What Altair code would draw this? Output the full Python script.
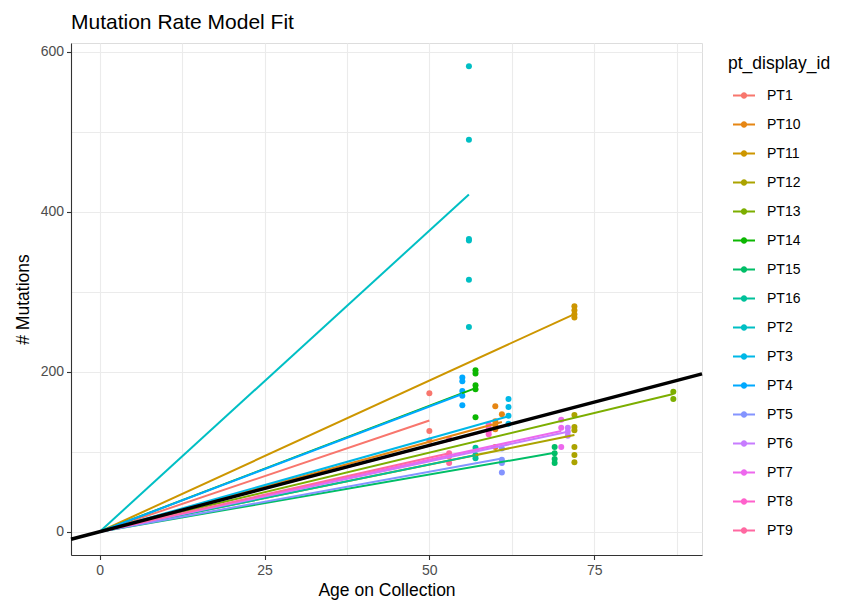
import altair as alt
import pandas as pd

FONT = "Liberation Sans"

# ---- data ----
patients = ["PT1", "PT10", "PT11", "PT12", "PT13", "PT14", "PT15", "PT16",
            "PT2", "PT3", "PT4", "PT5", "PT6", "PT7", "PT8", "PT9"]
palette = ["#F8766D", "#E68613", "#CD9600", "#ABA300", "#7CAE00", "#0CB702",
           "#00BE67", "#00C19A", "#00BFC4", "#00B8E7", "#00A9FF", "#8494FF",
           "#C77CFF", "#ED68ED", "#FF61CC", "#FF68A1"]
# per-patient fitted slope (mutations per year, line through the origin)
fit_slopes = [2.78, 2.25, 3.78, 1.68, 1.98, 3.15, 1.43, 1.68,
              7.53, 2.33, 3.13, 1.50, 1.76, 1.80, 2.15, 1.85]
overall_slope = 2.16

point_patient = (["PT1"] * 3 + ["PT10"] * 6 + ["PT11"] * 4 + ["PT12"] * 6 +
                 ["PT13"] * 2 + ["PT14"] * 5 + ["PT15"] * 4 + ["PT16"] * 3 +
                 ["PT2"] * 6 + ["PT3"] * 4 + ["PT4"] * 5 + ["PT5"] * 4 +
                 ["PT6"] * 3 + ["PT7"] * 3 + ["PT8"] * 4 + ["PT9"] * 4)
point_age = ([50] * 3 + [60, 61, 60, 60, 60, 60] + [72] * 4 + [72] * 6 +
             [87] * 2 + [57] * 5 + [69] * 4 + [57] * 3 +
             [56] * 6 + [62] * 4 + [55] * 5 + [61] * 4 +
             [71] * 3 + [70] * 3 + [59] * 4 + [53] * 4)
point_mutations = ([173, 126, 114] +
                   [157, 147, 138, 133, 128, 106] +
                   [282, 277, 272, 268] +
                   [146, 131, 127, 106, 96, 87] +
                   [175, 166] +
                   [202, 198, 183, 178, 143] +
                   [106, 98, 91, 86] +
                   [105, 96, 92] +
                   [582, 490, 366, 364, 315, 256] +
                   [166, 156, 145, 135] +
                   [193, 188, 176, 170, 158] +
                   [104, 90, 86, 74] +
                   [130, 125, 120] +
                   [140, 130, 106] +
                   [134, 130, 126, 122] +
                   [116, 98, 94, 86])

x_limits = [-4.35, 91.35]
y_limits = [-29.1, 611.1]
x_breaks = [0, 12.5, 25, 37.5, 50, 62.5, 75, 87.5]
y_breaks = [0, 100, 200, 300, 400, 500, 600]

# ---- tables ----
pts = pd.DataFrame({"pt_display_id": point_patient, "age": point_age,
                    "mutations": point_mutations})
max_age = pts.groupby("pt_display_id")["age"].max()
line_rows = []
for p, s in zip(patients, fit_slopes):
    for a in (0, max_age[p]):
        line_rows.append({"pt_display_id": p, "age": a, "mutations": s * a})
fit_lines = pd.DataFrame(line_rows)
overall = pd.DataFrame({"age": x_limits,
                        "mutations": [overall_slope * a for a in x_limits]})

# ---- scales / axes ----
xscale = alt.Scale(domain=x_limits, nice=False, zero=False)
yscale = alt.Scale(domain=y_limits, nice=False, zero=False)

common_axis = dict(
    grid=True, gridColor="#EBEBEB", gridWidth=1.1,
    domain=True, domainColor="#333333", domainWidth=1.1,
    tickColor="#333333", tickSize=4.5, tickWidth=1.1,
    labelColor="#4D4D4D", labelFontSize=14, labelFont=FONT,
    titleColor="#000000", titleFontSize=17.5, titleFont=FONT,
    titleFontWeight="normal",
)
xaxis = alt.Axis(
    values=x_breaks, title="Age on Collection",
    labelExpr="datum.value % 25 === 0 ? datum.label : ''",
    tickOpacity={"condition": {"test": "datum.value % 25 === 0", "value": 1}, "value": 0},
    labelPadding=4, titlePadding=4, **common_axis)
yaxis = alt.Axis(
    values=y_breaks, title="# Mutations",
    labelExpr="datum.value % 200 === 0 ? datum.label : ''",
    tickOpacity={"condition": {"test": "datum.value % 200 === 0", "value": 1}, "value": 0},
    labelPadding=3, titlePadding=8, **common_axis)

color_scale = alt.Scale(domain=patients, range=palette)

legend_symbol = ("M-1,-0.08H-0.26V0.08H-1Z M0.26,-0.08H1V0.08H0.26Z "
                 "M0.29,0A0.29,0.29 0 1,1 -0.29,0A0.29,0.29 0 1,1 0.29,0Z")

points = alt.Chart(pts).mark_point(filled=True, size=36, opacity=1).encode(
    x=alt.X("age:Q", scale=xscale, axis=xaxis),
    y=alt.Y("mutations:Q", scale=yscale, axis=yaxis),
    color=alt.Color("pt_display_id:N", scale=color_scale,
                    legend=alt.Legend(
                        title="pt_display_id", orient="none",
                        legendX=657, legendY=12,
                        symbolType=legend_symbol, symbolSize=484,
                        symbolStrokeWidth=0, symbolOffset=5,
                        labelOffset=12, rowPadding=11, titlePadding=12,
                        titleFontSize=17.5, titleFont=FONT,
                        titleFontWeight="normal", titleColor="#000000",
                        labelFontSize=14, labelFont=FONT,
                        labelColor="#000000", padding=0)),
)

lines = alt.Chart(fit_lines).mark_line(strokeWidth=2).encode(
    x=alt.X("age:Q", scale=xscale, axis=xaxis),
    y=alt.Y("mutations:Q", scale=yscale, axis=yaxis),
    color=alt.Color("pt_display_id:N", scale=color_scale, legend=None),
    detail="pt_display_id:N",
)

abline = alt.Chart(overall).mark_line(strokeWidth=3.4, color="#000000").encode(
    x=alt.X("age:Q", scale=xscale, axis=xaxis),
    y=alt.Y("mutations:Q", scale=yscale, axis=yaxis),
)

chart = alt.layer(points, lines, abline).properties(
    width=631, height=512,
    title=alt.TitleParams("Mutation Rate Model Fit", anchor="start",
                          frame="group",
                          fontSize=21, font=FONT, fontWeight="normal",
                          color="#000000", offset=10),
    autosize=alt.AutoSizeParams(type="none"),
    padding={"left": 71, "top": 43, "right": 144, "bottom": 51},
).configure_view(stroke="#333333", strokeWidth=1.1, strokeOpacity=1,
                 fill="#FFFFFF"
).configure(background="#FFFFFF")

chart.save("out.html", embed_options={"renderer": "svg", "actions": False})
